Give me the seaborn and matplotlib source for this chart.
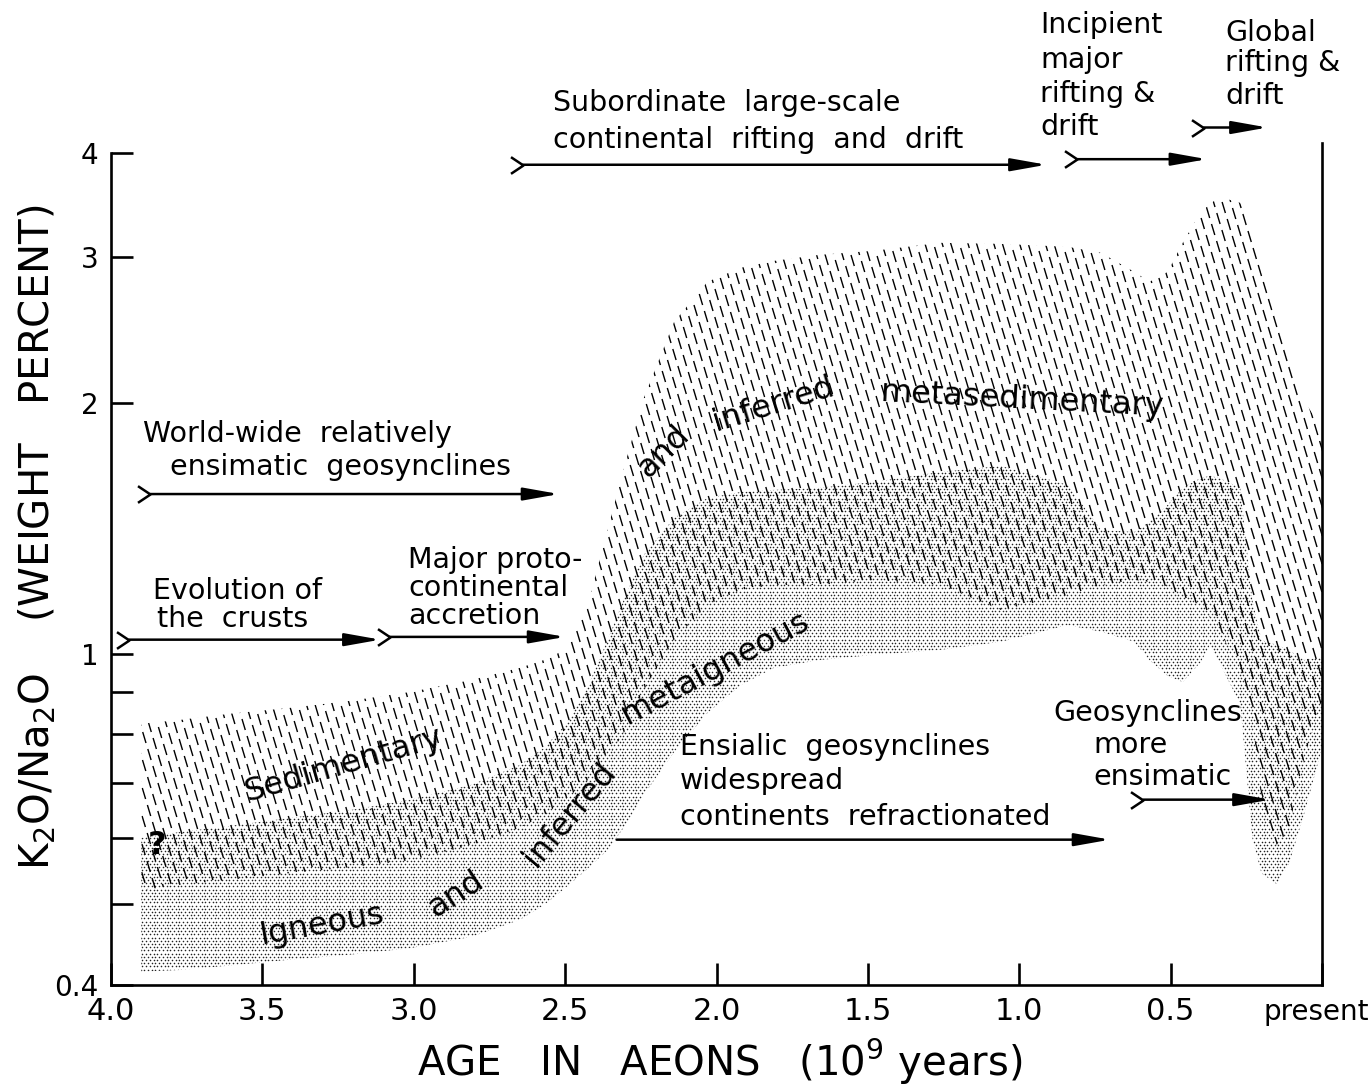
import numpy as np
import matplotlib
matplotlib.use("Agg")
import matplotlib.pyplot as plt
import matplotlib.transforms as mtransforms
from matplotlib.collections import LineCollection
from matplotlib.patches import PathPatch
from matplotlib.path import Path
from matplotlib.ticker import FixedLocator, FixedFormatter, NullFormatter
import seaborn as sns

# ---------------------------------------------------------------------------
# Data: K2O/Na2O envelopes through time (age in aeons, ratio in weight %)
# ---------------------------------------------------------------------------
SED_AGE = [3.90, 3.77, 3.61, 3.41, 3.21, 3.01, 2.81, 2.65, 2.57, 2.50, 2.43,
           2.36, 2.30, 2.24, 2.14, 2.03, 1.92, 1.81, 1.66, 1.48, 1.26, 1.06,
           0.84, 0.73, 0.62, 0.57, 0.51, 0.46, 0.40, 0.34, 0.27, 0.23, 0.20,
           0.15, 0.11, 0.06, 0.00]
SED_TOP = [0.824, 0.833, 0.847, 0.861, 0.878, 0.900, 0.930, 0.962, 0.983,
           1.011, 1.129, 1.409, 1.701, 2.031, 2.506, 2.799, 2.910, 2.966,
           3.016, 3.050, 3.118, 3.109, 3.084, 3.033, 2.877, 2.799, 2.877,
           3.118, 3.398, 3.541, 3.483, 3.278, 2.877, 2.555, 2.256, 2.020, 1.859]
SED_BOTTOM = [0.520, 0.528, 0.535, 0.545, 0.554, 0.565, 0.589, 0.618, 0.640,
              0.668, 0.702, 0.750, 0.810, 0.905, 1.039, 1.145, 1.194, 1.210,
              1.210, 1.227, 1.210, 1.129, 1.177, 1.210, 1.227, 1.220, 1.194,
              1.168, 1.145, 1.068, 0.956, 0.833, 0.668, 0.589, 0.614, 0.746,
              0.880]

IGN_AGE = [3.90, 3.77, 3.61, 3.41, 3.21, 3.01, 2.81, 2.65, 2.57, 2.50, 2.43,
           2.36, 2.30, 2.24, 2.14, 2.03, 1.92, 1.81, 1.66, 1.48, 1.26, 1.06,
           0.84, 0.73, 0.62, 0.57, 0.51, 0.46, 0.40, 0.37, 0.34, 0.27, 0.23,
           0.20, 0.15, 0.11, 0.06, 0.00]
IGN_TOP = [0.601, 0.611, 0.621, 0.635, 0.649, 0.668, 0.696, 0.735, 0.771,
           0.821, 0.905, 1.039, 1.177, 1.315, 1.456, 1.539, 1.565, 1.574,
           1.583, 1.609, 1.654, 1.682, 1.596, 1.409, 1.401, 1.440, 1.510,
           1.583, 1.627, 1.636, 1.627, 1.583, 1.161, 1.039, 1.025, 1.011,
           0.983, 0.990]
IGN_BOTTOM = [0.415, 0.417, 0.422, 0.429, 0.435, 0.443, 0.457, 0.479, 0.499,
              0.523, 0.550, 0.581, 0.623, 0.677, 0.762, 0.849, 0.917, 0.962,
              0.983, 0.997, 1.011, 1.034, 1.083, 1.063, 1.034, 0.983, 0.941,
              0.925, 0.978, 1.025, 0.978, 0.870, 0.600, 0.545, 0.529, 0.558,
              0.640, 0.770]

X_TICKS = [4.0, 3.5, 3.0, 2.5, 2.0, 1.5, 1.0, 0.5, 0.0]
X_TICK_LABELS = ["4.0", "3.5", "3.0", "2.5", "2.0", "1.5", "1.0", "0.5", "present"]
Y_TICKS = [0.4, 1, 2, 3, 4]
Y_TICK_LABELS = ["0.4", "1", "2", "3", "4"]
Y_MINOR_TICKS = [0.5, 0.6, 0.7, 0.8, 0.9]

# tectonic episodes: start age, end age, ratio level, chevron tail
EVENT_START = [2.64, 0.81, 0.39, 3.87, 3.94, 3.08, 2.33, 0.59]
EVENT_END = [0.91, 0.38, 0.18, 2.52, 3.11, 2.50, 0.70, 0.17]
EVENT_LEVEL = [3.87, 3.93, 4.29, 1.556, 1.040, 1.048, 0.598, 0.668]
EVENT_TAIL = [True, True, True, True, True, True, False, True]

# ---------------------------------------------------------------------------
W, H = 1371, 1088
AX_L, AX_R, AX_T, AX_B = 111, 1322, 143, 985

sns.set_theme(style="ticks")
plt.rcParams.update({
    "font.family": ["DejaVu Sans"],
    "mathtext.fontset": "dejavusans",
    "text.color": "black",
    "axes.edgecolor": "black",
    "axes.labelcolor": "black",
    "xtick.color": "black",
    "ytick.color": "black",
})

fig = plt.figure(figsize=(W / 100, H / 100), dpi=100)
fig.patch.set_facecolor("white")
ax = fig.add_axes([AX_L / W, (H - AX_B) / H, (AX_R - AX_L) / W, (AX_B - AX_T) / H])
ax.set_yscale("log")
ax.set_xlim(4.0, 0.0)
ax.set_ylim(0.4, 4.11)
ax.set_facecolor("white")

# pixel-space transform for annotation layout (origin top-left)
pix = mtransforms.Affine2D().scale(1 / W, -1 / H).translate(0, 1) + fig.transFigure


def band_patch(age, top, bottom):
    verts = list(zip(age, top)) + list(zip(age[::-1], bottom[::-1]))
    verts.append(verts[0])
    codes = [Path.MOVETO] + [Path.LINETO] * (len(verts) - 2) + [Path.CLOSEPOLY]
    patch = PathPatch(Path(verts, codes), transform=ax.transData,
                      facecolor="none", edgecolor="none")
    ax.add_patch(patch)
    return patch


sed_patch = band_patch(SED_AGE, SED_TOP, SED_BOTTOM)
ign_patch = band_patch(IGN_AGE, IGN_TOP, IGN_BOTTOM)

# stipple screen for the igneous band
sp = 3.7
rows = np.arange(AX_T, AX_B, sp * 0.866)
dots_x, dots_y = [], []
for i, yy in enumerate(rows):
    xx = np.arange(AX_L + (sp / 2 if i % 2 else 0), AX_R, sp)
    dots_x.append(xx)
    dots_y.append(np.full_like(xx, yy))
dots_x = (np.concatenate(dots_x) - AX_L) / (AX_R - AX_L)
dots_y = (AX_B - np.concatenate(dots_y)) / (AX_B - AX_T)
stip = ax.scatter(dots_x, dots_y, s=1.3, c="#222222", linewidths=0,
                  marker="o", transform=ax.transAxes, zorder=2)
stip.set_clip_path(ign_patch)

# dashed slanted hatching for the sedimentary band
period, dash_v, slope, spacing = 17.0, 11.0, 0.30, 8.6
segs = []
for k, xt in enumerate(np.arange(AX_L - slope * (AX_B - AX_T) - 30, AX_R + 10, spacing)):
    phase = (k * 6.0) % period
    y0 = np.arange(AX_T - period + phase, AX_B, period)
    y1 = y0 + dash_v
    x0 = xt + slope * (y0 - AX_T)
    x1 = xt + slope * (y1 - AX_T)
    segs.append(np.stack([np.stack([x0, y0], 1), np.stack([x1, y1], 1)], 1))
segs = np.concatenate(segs)
segs_ax = np.empty_like(segs)
segs_ax[..., 0] = (segs[..., 0] - AX_L) / (AX_R - AX_L)
segs_ax[..., 1] = (AX_B - segs[..., 1]) / (AX_B - AX_T)
lc = LineCollection(segs_ax, colors="black", linewidths=1.0,
                    transform=ax.transAxes, capstyle="butt", zorder=3)
ax.add_collection(lc, autolim=False)
lc.set_clip_path(sed_patch)

# episode arrows
chevron = Path([(-1.5, 1.0), (0.0, 0.0), (-1.5, -1.0)],
               [Path.MOVETO, Path.LINETO, Path.LINETO])
for a0, a1, lev, tail in zip(EVENT_START, EVENT_END, EVENT_LEVEL, EVENT_TAIL):
    ax.annotate("", xy=(a1, lev), xytext=(a0, lev), xycoords="data",
                annotation_clip=False, zorder=6,
                arrowprops=dict(arrowstyle="-|>,head_length=1.35,head_width=0.24",
                                mutation_scale=16, lw=1.8, color="black",
                                shrinkA=0, shrinkB=0))
    if tail:
        ax.plot([a0], [lev], marker=chevron, ms=18, mfc="none", mec="black",
                mew=1.8, clip_on=False, zorder=6)

# annotation text (left x, centre y in pixels)
notes = [
    ("Subordinate  large-scale", 553, 103),
    ("continental  rifting  and  drift", 553, 140),
    ("Incipient", 1040, 25),
    ("major", 1040, 60),
    ("rifting &", 1040, 94),
    ("drift", 1040, 127),
    ("Global", 1225, 33),
    ("rifting &", 1225, 63),
    ("drift", 1225, 96),
    ("World-wide  relatively", 143, 434),
    ("ensimatic  geosynclines", 170, 467),
    ("Evolution of", 153, 591),
    ("the  crusts", 157, 619),
    ("Major proto-", 408, 560),
    ("continental", 408, 588),
    ("accretion", 408, 616),
    ("Ensialic  geosynclines", 680, 747),
    ("widespread", 680, 781),
    ("continents  refractionated", 680, 817),
    ("Geosynclines", 1053, 713),
    ("more", 1093, 745),
    ("ensimatic", 1093, 777),
]
for s, x, y in notes:
    ax.text(x, y, s, transform=pix, ha="left", va="center", fontsize=20.5, zorder=7)

band_labels = [
    ("Sedimentary", 344, 765, 16),
    ("Igneous", 322, 925, 10),
    ("and", 456, 895, 33),
    ("inferred", 570, 815, 50),
    ("metaigneous", 715, 668, 28),
    ("and", 663, 452, 45),
    ("inferred", 773, 405, 17),
    ("metasedimentary", 1022, 400, -3),
]
for s, x, y, rot in band_labels:
    ax.text(x, y, s, transform=pix, ha="center", va="center", rotation=rot,
            rotation_mode="anchor", fontsize=23, zorder=7)

ax.text(157, 846, "?", transform=pix, ha="center", va="center",
        fontsize=23, fontweight="bold", zorder=8)

# axes styling
for side in ("left", "bottom", "right"):
    ax.spines[side].set_linewidth(1.9)
    ax.spines[side].set_color("black")
ax.spines["top"].set_visible(False)
ax.spines["left"].set_bounds(0.4, 4.0)

ax.xaxis.set_major_locator(FixedLocator(X_TICKS))
ax.xaxis.set_major_formatter(FixedFormatter(X_TICK_LABELS))
ax.xaxis.set_minor_locator(FixedLocator([]))
ax.yaxis.set_major_locator(FixedLocator(Y_TICKS))
ax.yaxis.set_major_formatter(FixedFormatter(Y_TICK_LABELS))
ax.yaxis.set_minor_locator(FixedLocator(Y_MINOR_TICKS))
ax.yaxis.set_minor_formatter(NullFormatter())
ax.tick_params(axis="both", which="both", direction="in", length=16, width=1.9,
               top=False, right=False, bottom=True, left=True)
ax.tick_params(axis="x", labelsize=22, pad=9)
ax.tick_params(axis="y", labelsize=20, pad=9)
present = ax.get_xticklabels()[-1]
present.set_fontsize(20)
present.set_transform(present.get_transform() +
                      mtransforms.ScaledTranslation(-4 / 72, 0, fig.dpi_scale_trans))

ax.text(720, 1062, "AGE   IN   AEONS   (10$^{9}$ years)", transform=pix,
        ha="center", va="center", fontsize=29)
ax.text(38, 537, "K$_{2}$O/Na$_{2}$O    (WEIGHT   PERCENT)", transform=pix,
        ha="center", va="center", rotation=90, fontsize=29)

fig.savefig("out.png", dpi=100, facecolor="white")
